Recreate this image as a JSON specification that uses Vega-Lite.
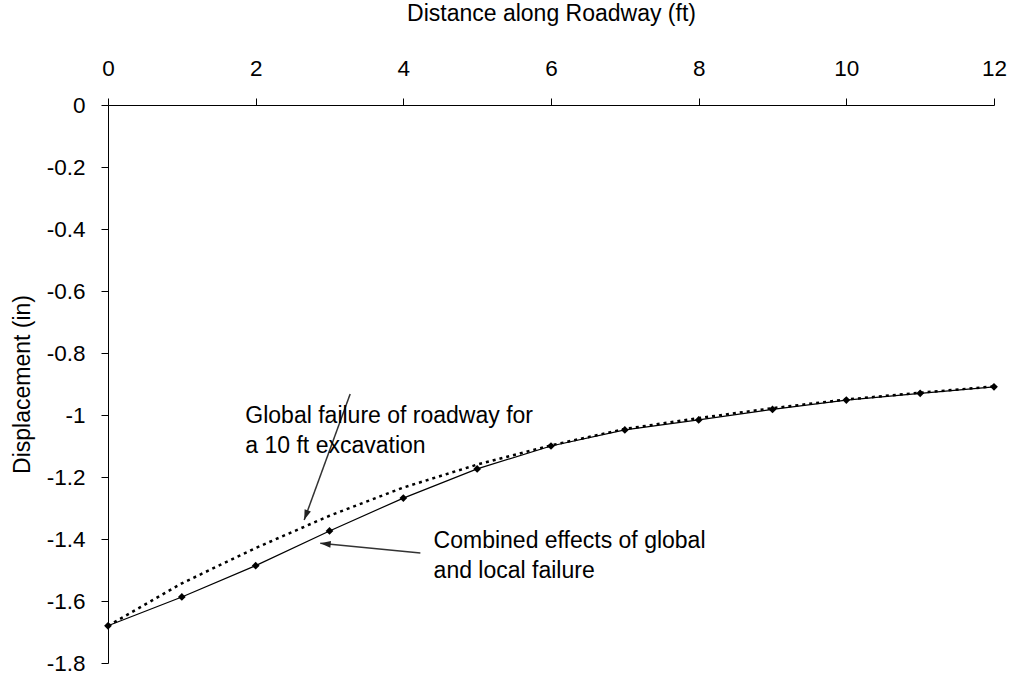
{
  "$schema": "https://vega.github.io/schema/vega-lite/v6.json",
  "autosize": "none",
  "width": 886,
  "height": 558,
  "padding": {"left": 108, "top": 105, "right": 20, "bottom": 16},
  "background": "white",
  "config": {
    "view": {"stroke": null},
    "font": "Liberation Sans",
    "axis": {"grid": false, "domainColor": "#000", "tickColor": "#000", "labelColor": "#000", "titleColor": "#000", "labelFont": "Liberation Sans", "titleFont": "Liberation Sans", "titleFontWeight": "normal", "labelFontSize": 22.5, "titleFontSize": 23}
  },
  "datasets": {
    "series": [
      {"distance": 0, "displacement": -1.68, "series": "Combined"},
      {"distance": 1, "displacement": -1.587, "series": "Combined"},
      {"distance": 2, "displacement": -1.486, "series": "Combined"},
      {"distance": 3, "displacement": -1.374, "series": "Combined"},
      {"distance": 4, "displacement": -1.268, "series": "Combined"},
      {"distance": 5, "displacement": -1.174, "series": "Combined"},
      {"distance": 6, "displacement": -1.1, "series": "Combined"},
      {"distance": 7, "displacement": -1.048, "series": "Combined"},
      {"distance": 8, "displacement": -1.016, "series": "Combined"},
      {"distance": 9, "displacement": -0.982, "series": "Combined"},
      {"distance": 10, "displacement": -0.952, "series": "Combined"},
      {"distance": 11, "displacement": -0.93, "series": "Combined"},
      {"distance": 12, "displacement": -0.909, "series": "Combined"},
      {"distance": 0, "displacement": -1.68, "series": "Global"},
      {"distance": 1, "displacement": -1.543, "series": "Global"},
      {"distance": 2, "displacement": -1.429, "series": "Global"},
      {"distance": 3, "displacement": -1.325, "series": "Global"},
      {"distance": 4, "displacement": -1.234, "series": "Global"},
      {"distance": 5, "displacement": -1.16, "series": "Global"},
      {"distance": 6, "displacement": -1.098, "series": "Global"},
      {"distance": 7, "displacement": -1.045, "series": "Global"},
      {"distance": 8, "displacement": -1.01, "series": "Global"},
      {"distance": 9, "displacement": -0.978, "series": "Global"},
      {"distance": 10, "displacement": -0.95, "series": "Global"},
      {"distance": 11, "displacement": -0.928, "series": "Global"},
      {"distance": 12, "displacement": -0.908, "series": "Global"}
    ],
    "labels": [
      {"x": 1.86, "y": -1.003, "label": "Global failure of roadway for"},
      {"x": 1.86, "y": -1.1, "label": "a 10 ft excavation"},
      {"x": 4.41, "y": -1.406, "label": "Combined effects of global"},
      {"x": 4.41, "y": -1.503, "label": "and local failure"}
    ],
    "arrows": [
      {"x": 3.28, "y": -0.932, "x2": 2.657, "y2": -1.339, "angle": 200},
      {"x": 4.231, "y": -1.445, "x2": 2.875, "y2": -1.414, "angle": 275.5}
    ]
  },
  "layer": [
    {
      "data": {"name": "series"},
      "transform": [{"filter": "datum.series === 'Global'"}],
      "mark": {"type": "line", "color": "#000", "strokeWidth": 2.5, "strokeDash": [3, 4]},
      "encoding": {
        "x": {"field": "distance", "type": "quantitative", "scale": {"domain": [0, 12], "nice": false},
              "axis": {"orient": "top", "title": "Distance along Roadway (ft)", "values": [0, 2, 4, 6, 8, 10, 12], "labelExpr": "datum.value + ''", "tickSize": 7, "labelPadding": 18, "titlePadding": 32, "labelFlush": false}},
        "y": {"field": "displacement", "type": "quantitative", "scale": {"domain": [-1.8, 0], "nice": false, "zero": false},
              "axis": {"title": "Displacement (in)", "values": [0, -0.2, -0.4, -0.6, -0.8, -1, -1.2, -1.4, -1.6, -1.8], "labelExpr": "datum.value + ''", "tickSize": 7, "labelPadding": 16, "titlePadding": 12, "labelFlush": false}}
      }
    },
    {
      "data": {"name": "series"},
      "transform": [{"filter": "datum.series === 'Combined'"}],
      "mark": {"type": "line", "color": "#000", "strokeWidth": 1.2, "point": {"shape": "diamond", "filled": true, "size": 60, "color": "#000"}},
      "encoding": {
        "x": {"field": "distance", "type": "quantitative"},
        "y": {"field": "displacement", "type": "quantitative"}
      }
    },
    {
      "data": {"name": "arrows"},
      "mark": {"type": "rule", "color": "#333", "strokeWidth": 1.5},
      "encoding": {
        "x": {"field": "x", "type": "quantitative"},
        "y": {"field": "y", "type": "quantitative"},
        "x2": {"field": "x2"},
        "y2": {"field": "y2"}
      }
    },
    {
      "data": {"name": "arrows"},
      "mark": {"type": "point", "shape": "M0,0L-0.7,2.2L0.7,2.2Z", "filled": true, "color": "#222", "size": 90, "opacity": 1},
      "encoding": {
        "x": {"field": "x2", "type": "quantitative"},
        "y": {"field": "y2", "type": "quantitative"},
        "angle": {"field": "angle", "type": "quantitative", "scale": null}
      }
    },
    {
      "data": {"name": "labels"},
      "mark": {"type": "text", "align": "left", "baseline": "middle", "fontSize": 23, "color": "#000", "font": "Liberation Sans"},
      "encoding": {
        "x": {"field": "x", "type": "quantitative"},
        "y": {"field": "y", "type": "quantitative"},
        "text": {"field": "label"}
      }
    }
  ]
}
